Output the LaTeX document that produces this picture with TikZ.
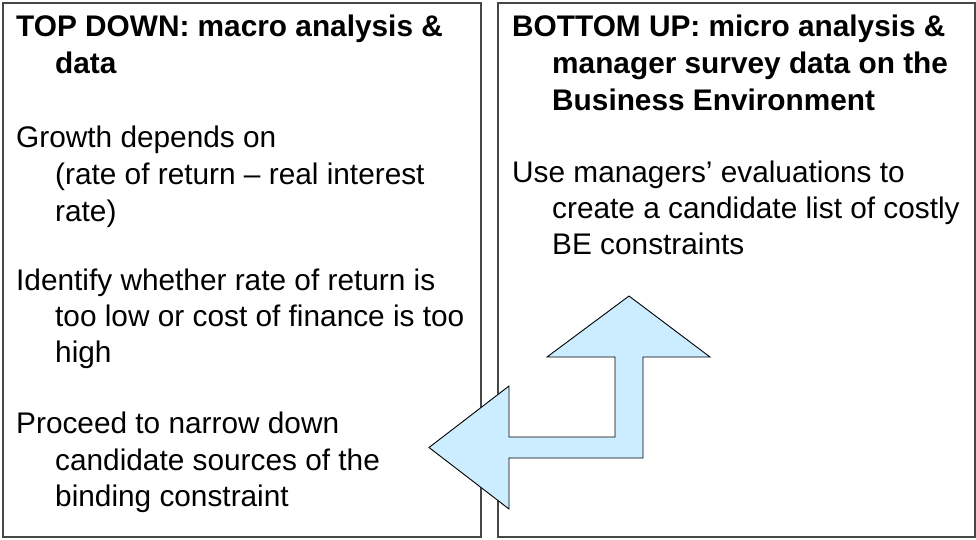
\documentclass[tikz,border=0pt]{standalone}
\usepackage{fontspec}
\setmainfont{Liberation Sans}
\definecolor{arrowfill}{HTML}{CCECFF}
\begin{document}
\begin{tikzpicture}[x=1pt,y=-1pt,
  panel/.style={draw=black!72,line width=1.2pt},
  ln/.style={anchor=base west,inner sep=0pt,font=\fontsize{29.8}{36}\selectfont},
  hd/.style={ln,font=\fontsize{29.8}{36}\selectfont\bfseries},
  bent/.style={draw=black,line width=0.9pt,fill=arrowfill,line join=miter}]
\useasboundingbox (0,0) rectangle (976,539);
\draw[panel] (3,3) rectangle (481,537);
\draw[panel] (498,3) rectangle (975,537);
% left column
\node[hd] (l1) at (16,36) {TOP DOWN: macro analysis \&};
\node[hd] (l2) at (55,73) {data};
\node[ln] (l3) at (16,147) {Growth depends on};
\node[ln] (l4) at (55,184) {(rate of return – real interest};
\node[ln] (l5) at (55,221) {rate)};
\node[ln] (l6) at (16,290) {Identify whether rate of return is};
\node[ln] (l7) at (55,326) {too low or cost of finance is too};
\node[ln] (l8) at (55,362) {high};
\node[ln] (l9) at (16,433) {Proceed to narrow down};
\node[ln] (l10) at (55,470) {candidate sources of the};
\node[ln] (l11) at (55,506) {binding constraint};
% right column
\node[hd] (r1) at (512,36) {BOTTOM UP: micro analysis \&};
\node[hd] (r2) at (552,73) {manager survey data on the};
\node[hd] (r3) at (552,110) {Business Environment};
\node[ln] (r4) at (512,182) {Use managers’ evaluations to};
\node[ln] (r5) at (552,218) {create a candidate list of costly};
\node[ln] (r6) at (552,254) {BE constraints};
% bent double arrow
\draw[bent] (629,296) -- (710,357) -- (643,357) -- (643,458) -- (509,458)
  -- (509,509) -- (429,447.5) -- (509,386) -- (509,437) -- (615,437)
  -- (615,357) -- (547,357) -- cycle;
\end{tikzpicture}
\end{document}
